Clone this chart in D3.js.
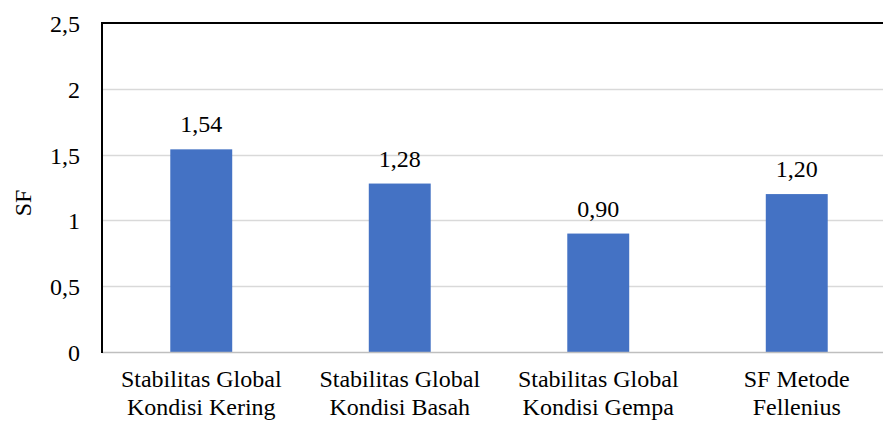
<!DOCTYPE html>
<html>
<head>
<meta charset="utf-8">
<script src="https://cdn.jsdelivr.net/npm/d3@7"></script>
<style>
  body { margin: 0; background: #fff; }
</style>
</head>
<body>
<svg id="chart" width="883" height="422"></svg>
<script>
const categories = [
    ['Stabilitas Global', 'Kondisi Kering'],
    ['Stabilitas Global', 'Kondisi Basah'],
    ['Stabilitas Global', 'Kondisi Gempa'],
    ['SF Metode', 'Fellenius']
]
const values = [1.54, 1.28, 0.90, 1.20]
const y_ticks = [0, 0.5, 1, 1.5, 2, 2.5]
const y_label = 'SF'

const fmt = (n, d) => n.toFixed(d).replace('.', ',')
const tick_fmt = n => (n % 1 === 0 ? String(n) : fmt(n, 1))

const plot_l = 102, plot_t = 23, plot_b = 352, plot_r = 896
const font = '"Liberation Serif"'
const fs = '24px'
const svg = d3.select('#chart')

const txt = sel => sel.style('font-family', font).style('font-size', fs).attr('fill', '#000')

const x = d3.scaleBand()
    .domain(d3.range(categories.length))
    .range([plot_l, plot_r])
    .paddingInner(0.688)
    .paddingOuter(0.344)

const y = d3.scaleLinear().domain([0, 2.5]).range([plot_b, plot_t])

// gridlines
svg.append('g').selectAll('line')
    .data(y_ticks.filter(t => t > 0 && t < 2.5))
    .enter().append('line')
    .attr('x1', plot_l).attr('x2', 883)
    .attr('y1', d => Math.round(y(d)) + 0.5).attr('y2', d => Math.round(y(d)) + 0.5)
    .attr('stroke', '#d9d9d9').attr('stroke-width', 1.5)

// bars
svg.append('g').selectAll('rect')
    .data(values)
    .enter().append('rect')
    .attr('x', (d, i) => x(i))
    .attr('width', x.bandwidth())
    .attr('y', d => y(d))
    .attr('height', d => y(0) - y(d))
    .attr('fill', '#4472c4')

// bottom axis line
svg.append('line')
    .attr('x1', plot_l).attr('x2', 883)
    .attr('y1', plot_b + 0.5).attr('y2', plot_b + 0.5)
    .attr('stroke', '#bfbfbf').attr('stroke-width', 1.5)

// frame: top + left
svg.append('path')
    .attr('d', `M${plot_l},${plot_b + 1}V${plot_t}H883`)
    .attr('fill', 'none').attr('stroke', '#000').attr('stroke-width', 2)

// y tick labels
svg.append('g').selectAll('text')
    .data(y_ticks)
    .enter().append('text')
    .attr('x', 80)
    .attr('y', d => y(d) + 9)
    .attr('text-anchor', 'end')
    .call(txt)
    .text(tick_fmt)

// value labels
svg.append('g').selectAll('text')
    .data(values)
    .enter().append('text')
    .attr('x', (d, i) => x(i) + x.bandwidth() / 2)
    .attr('y', d => y(d) - 17)
    .attr('text-anchor', 'middle')
    .call(txt)
    .text(d => fmt(d, 2))

// category labels
const cat = svg.append('g').selectAll('text')
    .data(categories)
    .enter().append('text')
    .attr('text-anchor', 'middle')
    .call(txt)
cat.selectAll('tspan')
    .data((d, i) => d.map(s => ({ s, i })))
    .enter().append('tspan')
    .attr('x', d => x(d.i) + x.bandwidth() / 2)
    .attr('y', (d, j) => 387 + j * 28)
    .text(d => d.s)

// y axis title
svg.append('text')
    .attr('transform', 'translate(31, 203) rotate(-90)')
    .attr('text-anchor', 'middle')
    .call(txt)
    .text(y_label)
</script>
</body>
</html>
